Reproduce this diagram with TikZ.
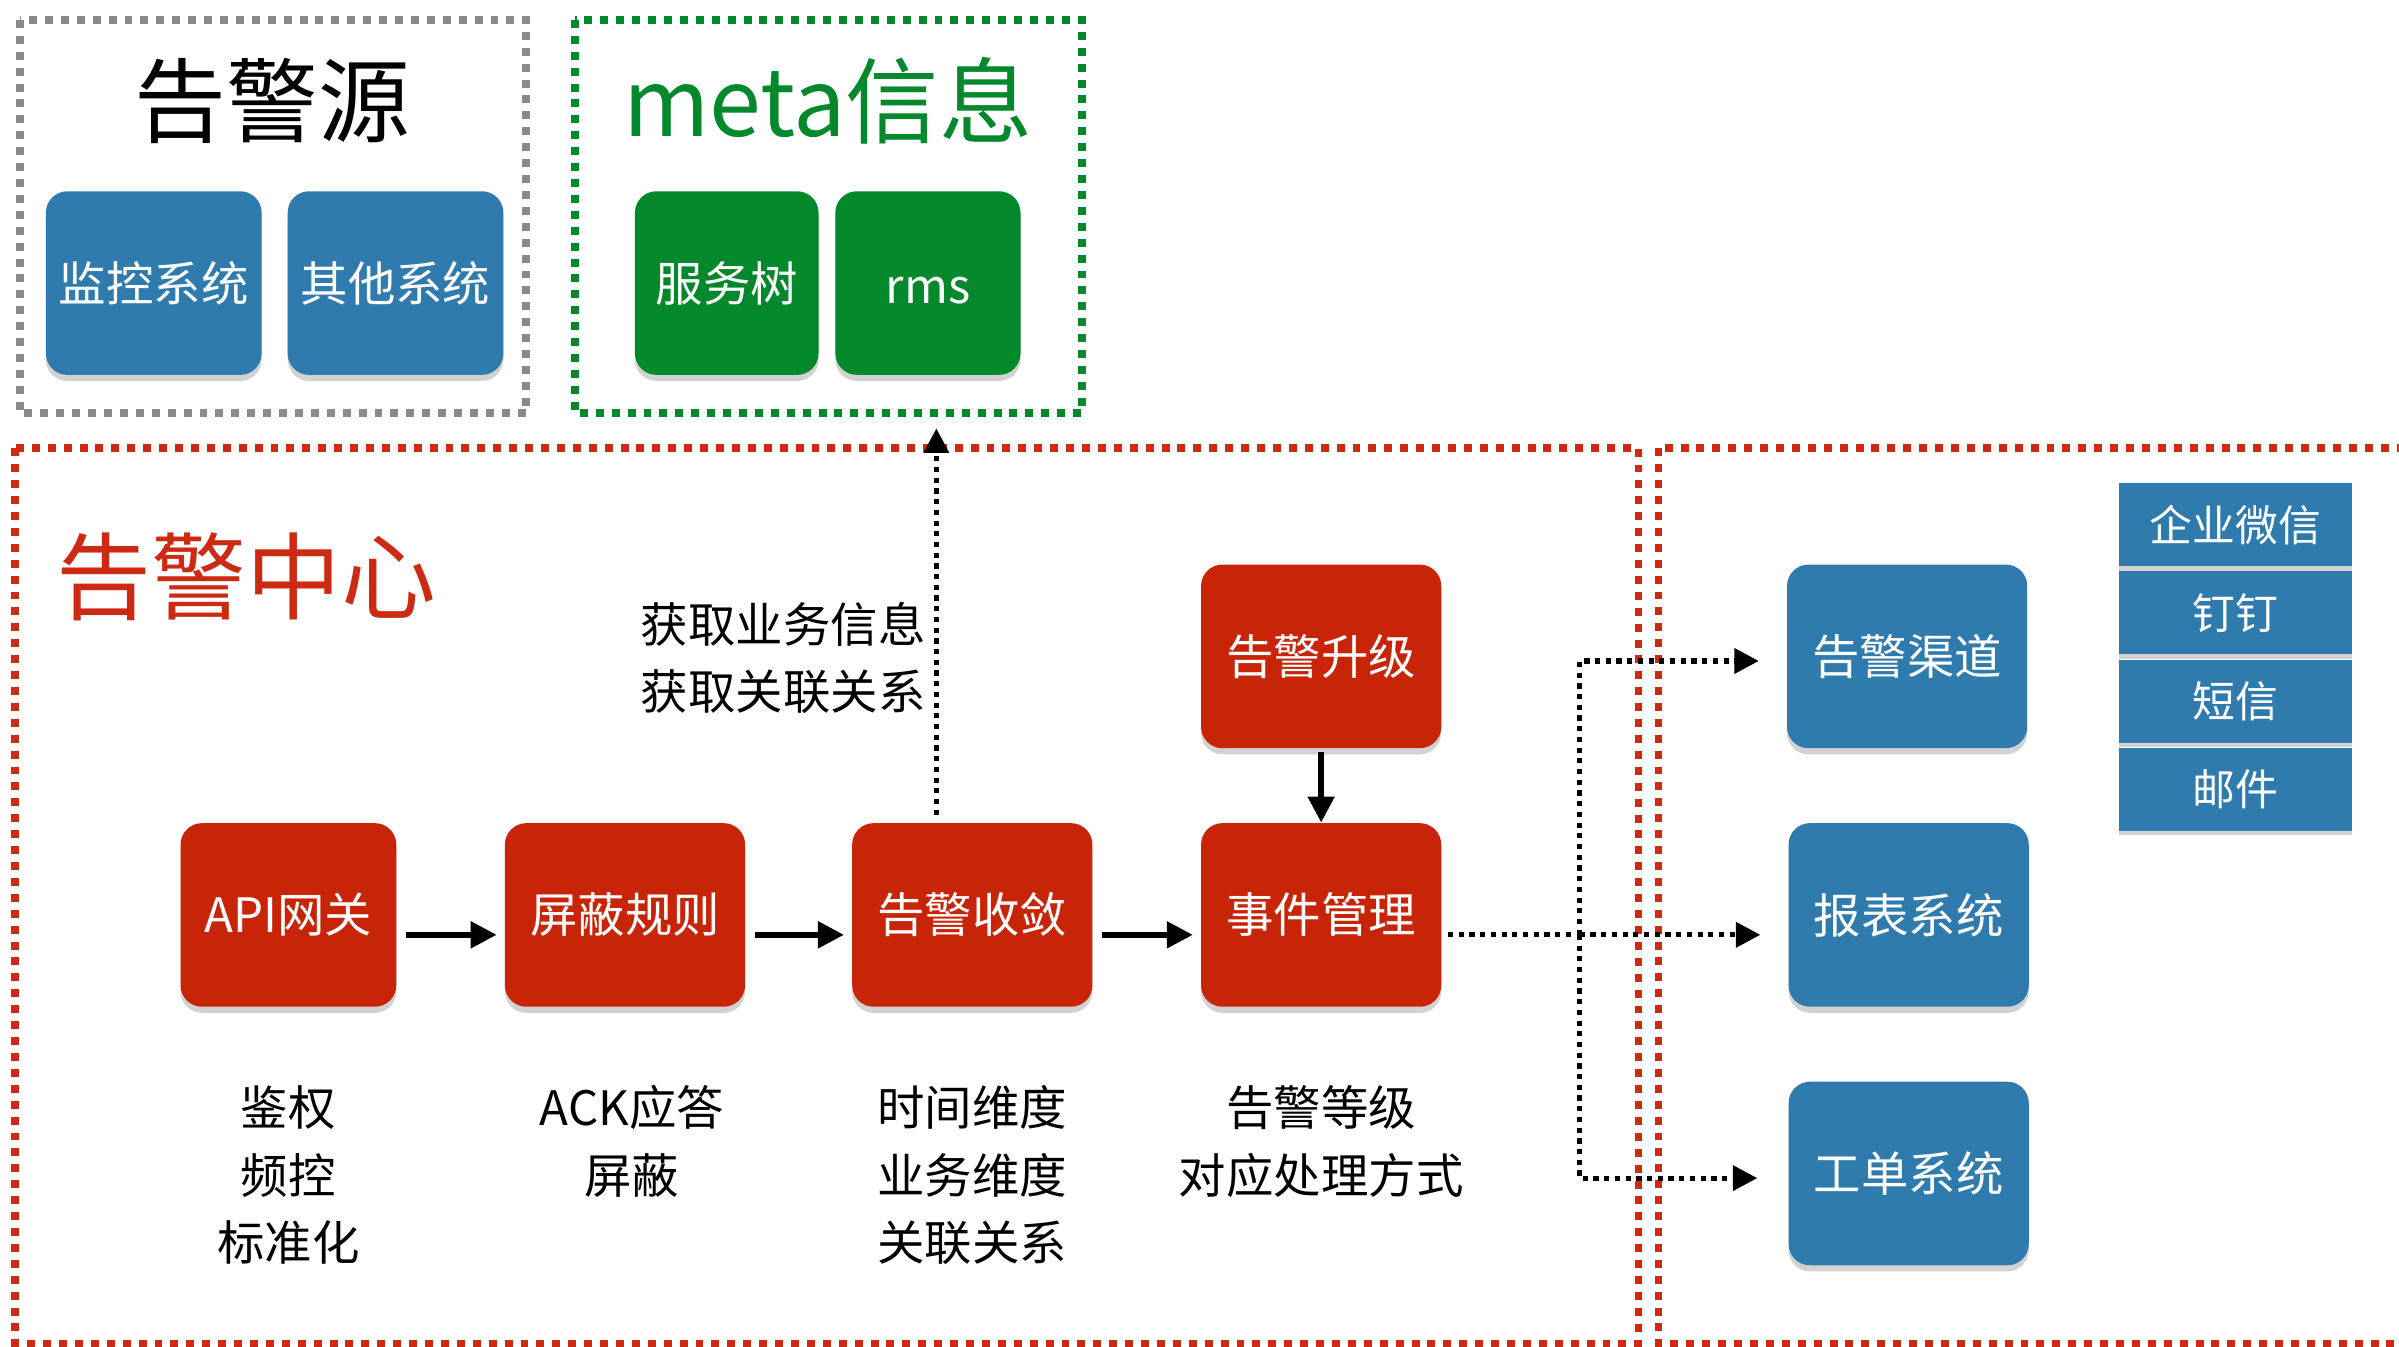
\documentclass[tikz,border=0pt]{standalone}
\usepackage{fontspec}
\setmainfont{Noto Sans CJK SC}
\usetikzlibrary{arrows.meta,shadows}
\definecolor{cblue}{HTML}{2F7BAE}
\definecolor{cred}{HTML}{C82508}
\definecolor{cgreen}{HTML}{03882C}
\definecolor{cgray}{HTML}{8A8A8A}
\definecolor{tred}{HTML}{CC2A12}
\tikzset{
  box/.style={rounded corners=7pt, minimum height=60pt, text=white, inner sep=0pt,
    font=\fontsize{15.5}{18}\selectfont,
    drop shadow={shadow xshift=0pt, shadow yshift=-2pt, opacity=0.22, fill=black!80}},
  bluebox/.style={box, fill=cblue},
  redbox/.style={box, fill=cred},
  greenbox/.style={box, fill=cgreen},
  stackbox/.style={fill=cblue, minimum width=76pt, minimum height=27pt, inner sep=0pt, text=white,
    font=\fontsize{14}{16}\selectfont,
    drop shadow={shadow xshift=0pt, shadow yshift=-1.5pt, opacity=0.22, fill=black!80}},
  grp/.style={line width=2.5pt, dash pattern=on 2.6pt off 2.6pt},
  arr/.style={line width=1.75pt, -{Triangle[length=8.5pt,width=8.5pt]}},
  dotarr/.style={line width=1.7pt, dash pattern=on 1.7pt off 1.8pt, -{Triangle[length=8pt,width=8pt]}},
  dotline/.style={line width=1.7pt, dash pattern=on 1.7pt off 1.8pt},
  lbl/.style={align=center, font=\fontsize{15.5}{22}\selectfont, text=black},
}
\begin{document}
\begin{tikzpicture}[x=0.5pt, y=-0.5pt]
\useasboundingbox (0,0) rectangle (1568,880);
\fill[white] (0,0) rectangle (1568,880);
% group frames
\draw[grp, cgray] (13,13) rectangle (344,270);
\draw[grp, cgreen] (376,13) rectangle (707,270);
\draw[grp, tred] (10,293) rectangle (1071,878);
\draw[grp, tred] (1084,293) rectangle (1580,878);
% titles
\node[font=\fontsize{30}{34}\selectfont] (t1) at (178,66) {告警源};
\node[font=\fontsize{30.5}{34}\selectfont, text=cgreen] (t2) at (541,66) {meta信息};
\node[font=\fontsize{31}{34}\selectfont, text=tred] (t3) at (161,377) {告警中心};
% sources
\node[bluebox, minimum width=70.5pt] (jk) at (100.5,185) {监控系统};
\node[bluebox, minimum width=70.5pt] (qt) at (258.5,185) {其他系统};
\node[greenbox, minimum width=60pt] (fwt) at (475,185) {服务树};
\node[greenbox, minimum width=60.5pt] (rms) at (606.5,185) {\raisebox{-2.5pt}[0.54em][0pt]{rms}};
% pipeline
\node[redbox, minimum width=70.5pt] (api) at (188.5,598) {API网关};
\node[redbox, minimum width=78.5pt] (pb) at (408.5,598) {屏蔽规则};
\node[redbox, minimum width=78.5pt] (sl) at (635.5,598) {告警收敛};
\node[redbox, minimum width=78.5pt] (sj) at (863.5,598) {事件管理};
\node[redbox, minimum width=78.5pt] (sj2) at (863.5,429) {告警升级};
% outputs
\node[bluebox, minimum width=78.5pt] (qd) at (1246.5,429) {告警渠道};
\node[bluebox, minimum width=78.5pt] (bb) at (1247.5,598) {报表系统};
\node[bluebox, minimum width=78.5pt] (gd) at (1247.5,767) {工单系统};
% channel stack
\node[stackbox] (s1) at (1461,343) {企业微信};
\node[stackbox] (s2) at (1461,400.5) {钉钉};
\node[stackbox] (s3) at (1461,458.5) {短信};
\node[stackbox] (s4) at (1461,516) {邮件};
% labels
\node[lbl] (l1) at (188.5,768) {鉴权\\频控\\标准化};
\node[lbl] (l2) at (413,746) {ACK应答\\屏蔽};
\node[lbl] (l3) at (635.5,768) {时间维度\\业务维度\\关联关系};
\node[lbl] (l4) at (863.5,746) {告警等级\\对应处理方式};
\node[lbl, align=right, anchor=east] (l5) at (612,430) {获取业务信息\\获取关联关系};
% connectors
\coordinate (ay) at (0,611);
\draw[arr] ([xshift=3pt]api.east |- ay) -- ([xshift=-2.5pt]pb.west |- ay);
\draw[arr] ([xshift=3pt]pb.east |- ay) -- ([xshift=-2.5pt]sl.west |- ay);
\draw[arr] ([xshift=3pt]sl.east |- ay) -- ([xshift=-2.5pt]sj.west |- ay);
\draw[arr] ([yshift=-1pt]sj2.south) -- (sj.north);
\coordinate (mt) at (612,280);
\draw[dotarr] ([yshift=2.5pt]sl.north -| mt) -- (mt);
\coordinate (br) at (1032.5,611);
\coordinate (bq) at (1032.5,432);
\coordinate (bg) at (1032.5,770);
\draw[dotline] ([xshift=2pt]sj.east |- ay) -- (br);
\draw[dotarr] (br) -- ([xshift=-9pt]bb.west |- br);
\draw[dotarr] (br) -- (bq) -- ([xshift=-9pt]qd.west |- bq);
\draw[dotarr] (br) -- (bg) -- ([xshift=-10pt]gd.west |- bg);
\end{tikzpicture}
\end{document}
